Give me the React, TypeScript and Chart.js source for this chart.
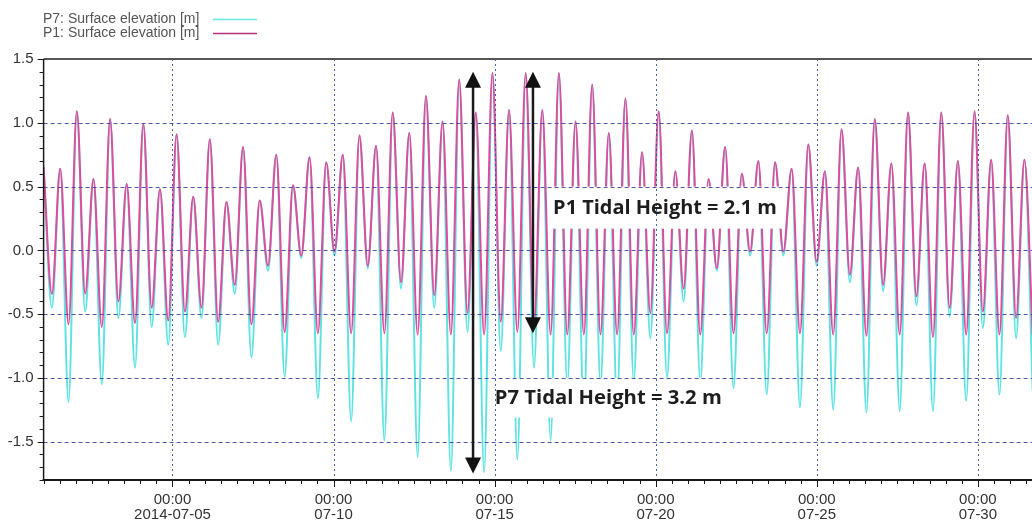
import React, { useEffect, useRef } from 'react';
import { Chart, registerables } from 'chart.js';

Chart.register(...registerables);

// ---- data (days since 2014-07-01 00:00) ----
const START_DAY = 0.0;
const STEP_DAYS = 0.258; // successive high / low waters

const p1Values = [
  0.65, -0.34, 0.64, -0.58, 1.09, -0.34, 0.56, -0.60, 1.03, -0.40,
  0.52, -0.57, 0.99, -0.45, 0.48, -0.55, 0.91, -0.48, 0.42, -0.45,
  0.87, -0.56, 0.38, -0.27, 0.81, -0.58, 0.39, -0.12, 0.75, -0.64,
  0.51, -0.04, 0.73, -0.65, 0.69, -0.01, 0.75, -0.65, 0.90, -0.12,
  0.82, -0.65, 1.08, -0.25, 0.92, -0.66, 1.21, -0.35, 1.01, -0.66,
  1.34, -0.49, 1.08, -0.66, 1.39, -0.56, 1.10, -0.64, 1.39, -0.58,
  1.10, -0.66, 1.39, -0.66, 1.01, -0.66, 1.30, -0.66, 0.92, -0.66,
  1.19, -0.66, 0.77, -0.49, 1.09, -0.65, 0.62, -0.30, 0.94, -0.66,
  0.56, -0.14, 0.81, -0.65, 0.60, -0.01, 0.70, -0.65, 0.69, -0.01,
  0.64, -0.65, 0.83, -0.09, 0.62, -0.66, 0.95, -0.19, 0.65, -0.67,
  1.03, -0.27, 0.68, -0.66, 1.08, -0.36, 0.68, -0.68, 1.08, -0.45,
  0.70, -0.66, 1.09, -0.48, 0.71, -0.66, 1.06, -0.53, 0.71, -0.66,
];

const p7Values = [
  0.65, -0.45, 0.64, -1.19, 1.09, -0.48, 0.56, -1.05, 1.03, -0.53,
  0.52, -0.92, 0.99, -0.60, 0.48, -0.74, 0.91, -0.68, 0.42, -0.53,
  0.87, -0.74, 0.38, -0.34, 0.81, -0.84, 0.39, -0.16, 0.75, -0.99,
  0.51, -0.06, 0.73, -1.16, 0.69, -0.04, 0.75, -1.34, 0.90, -0.14,
  0.82, -1.49, 1.08, -0.30, 0.92, -1.62, 1.21, -0.45, 1.01, -1.73,
  1.34, -0.64, 1.08, -1.74, 1.39, -0.79, 1.10, -1.64, 1.39, -0.92,
  1.10, -1.49, 1.39, -1.05, 1.01, -1.25, 1.30, -1.05, 0.92, -1.18,
  1.19, -1.02, 0.77, -0.69, 1.09, -1.00, 0.62, -0.40, 0.94, -1.03,
  0.56, -0.16, 0.81, -1.08, 0.60, -0.04, 0.70, -1.13, 0.69, -0.04,
  0.64, -1.23, 0.83, -0.12, 0.62, -1.25, 0.95, -0.25, 0.65, -1.27,
  1.03, -0.32, 0.68, -1.26, 1.08, -0.43, 0.68, -1.26, 1.08, -0.52,
  0.70, -1.18, 1.09, -0.61, 0.71, -1.13, 1.06, -0.69, 0.71, -1.10,
];

const seriesNames = ['P7: Surface elevation [m]', 'P1: Surface elevation [m]'];
const seriesColors = ['#5ee2e2', '#de4c9c'];
const legendColors = ['#6fe6e6', '#b8307a'];

const xTickDays = [4, 9, 14, 19, 24, 29];
const xTickLabels = [
  ['00:00', '2014-07-05'],
  ['00:00', '07-10'],
  ['00:00', '07-15'],
  ['00:00', '07-20'],
  ['00:00', '07-25'],
  ['00:00', '07-30'],
];
const yLabelValues = [-1.5, -1.0, -0.5, 0.0, 0.5, 1.0, 1.5];

const X_MIN = 0;
const X_MAX = 30.68;
const Y_MIN = -1.8;
const Y_MAX = 1.5;

const arrows = [
  { x: 13.33, from: 1.4, to: -1.75 },
  { x: 15.19, from: 1.4, to: -0.65 },
];
const annotations = [
  { text: 'P1 Tidal Height = 2.1 m', x0: 15.66, x1: 22.92, y0: 0.5, y1: 0.17 },
  { text: 'P7 Tidal Height = 3.2 m', x0: 13.85, x1: 21.21, y0: -1.0, y1: -1.31 },
];

const isHalfMultiple = (v: number) => Math.abs(Math.round(v * 10)) % 5 === 0;

const overlay = {
  id: 'overlay',
  afterDatasetsDraw(chart: any) {
    const { ctx, chartArea: a } = chart;
    const x = chart.scales.x;
    const y = chart.scales.y;
    ctx.save();
    // white label boxes
    ctx.fillStyle = '#ffffff';
    annotations.forEach((an) => {
      const l = x.getPixelForValue(an.x0);
      const r = x.getPixelForValue(an.x1);
      const t = y.getPixelForValue(an.y0);
      const b = y.getPixelForValue(an.y1);
      ctx.fillRect(l, t, r - l, b - t);
    });
    // grid lines
    ctx.beginPath();
    ctx.rect(a.left, a.top, a.right - a.left, a.bottom - a.top);
    ctx.clip();
    ctx.lineWidth = 1;
    ctx.strokeStyle = 'rgba(60,70,160,0.9)';
    ctx.setLineDash([4, 3]);
    yLabelValues.forEach((v) => {
      if (v <= Y_MIN || v >= Y_MAX) return;
      const py = Math.round(y.getPixelForValue(v)) + 0.5;
      ctx.beginPath();
      ctx.moveTo(a.left, py);
      ctx.lineTo(a.right, py);
      ctx.stroke();
    });
    ctx.strokeStyle = 'rgba(50,80,170,0.9)';
    ctx.setLineDash([2, 3]);
    xTickDays.forEach((d) => {
      const px = Math.round(x.getPixelForValue(d)) + 0.5;
      ctx.beginPath();
      ctx.moveTo(px, a.top);
      ctx.lineTo(px, a.bottom);
      ctx.stroke();
    });
    ctx.restore();

    ctx.save();
    // annotation texts (sized to fill their box)
    ctx.fillStyle = '#1e1e1e';
    ctx.textBaseline = 'middle';
    ctx.textAlign = 'left';
    annotations.forEach((an) => {
      const l = x.getPixelForValue(an.x0);
      const r = x.getPixelForValue(an.x1);
      const t = y.getPixelForValue(an.y0);
      const b = y.getPixelForValue(an.y1);
      ctx.font = 'bold 18px "Open Sans"';
      const w = ctx.measureText(an.text).width;
      const size = (18 * (r - l - 10)) / w;
      ctx.font = `bold ${size.toFixed(2)}px "Open Sans"`;
      ctx.fillText(an.text, l + 5, (t + b) / 2 + 1);
    });
    // arrows
    ctx.strokeStyle = '#1a1a1a';
    ctx.fillStyle = '#111111';
    ctx.lineWidth = 2.5;
    const hw = 8;
    const hh = 16;
    arrows.forEach((ar) => {
      const px = x.getPixelForValue(ar.x);
      const top = y.getPixelForValue(ar.from);
      const bot = y.getPixelForValue(ar.to);
      ctx.beginPath();
      ctx.moveTo(px, top + hh - 1);
      ctx.lineTo(px, bot - hh + 1);
      ctx.stroke();
      ctx.beginPath();
      ctx.moveTo(px, top);
      ctx.lineTo(px - hw, top + hh);
      ctx.lineTo(px + hw, top + hh);
      ctx.closePath();
      ctx.fill();
      ctx.beginPath();
      ctx.moveTo(px, bot);
      ctx.lineTo(px - hw, bot - hh);
      ctx.lineTo(px + hw, bot - hh);
      ctx.closePath();
      ctx.fill();
    });
    ctx.restore();
  },
  afterDraw(chart: any) {
    const { ctx, chartArea: a } = chart;
    const x = chart.scales.x;
    const y = chart.scales.y;
    ctx.save();
    // frame
    ctx.setLineDash([]);
    ctx.strokeStyle = '#555555';
    ctx.lineWidth = 2;
    ctx.beginPath();
    ctx.moveTo(a.left, a.top);
    ctx.lineTo(a.right, a.top);
    ctx.stroke();
    ctx.strokeStyle = '#1a1a1a';
    ctx.beginPath();
    ctx.moveTo(a.left - 1, a.bottom);
    ctx.lineTo(a.right, a.bottom);
    ctx.stroke();
    ctx.lineWidth = 1.5;
    ctx.beginPath();
    ctx.moveTo(a.left, a.top);
    ctx.lineTo(a.left, a.bottom);
    ctx.stroke();
    // tick marks
    ctx.lineWidth = 1;
    y.ticks.forEach((t: any) => {
      const py = Math.round(y.getPixelForValue(t.value)) + 0.5;
      const len = isHalfMultiple(t.value) ? 6 : 4;
      ctx.beginPath();
      ctx.moveTo(a.left - len, py);
      ctx.lineTo(a.left, py);
      ctx.stroke();
    });
    x.ticks.forEach((t: any) => {
      const px = Math.round(x.getPixelForValue(t.value)) + 0.5;
      const len = xTickDays.includes(t.value) ? 7 : 4;
      ctx.beginPath();
      ctx.moveTo(px, a.bottom);
      ctx.lineTo(px, a.bottom + len);
      ctx.stroke();
    });
    // legend
    ctx.font = '14px "Liberation Sans"';
    ctx.fillStyle = '#555555';
    ctx.textBaseline = 'middle';
    ctx.textAlign = 'left';
    seriesNames.forEach((name, i) => {
      const ly = 19 + i * 14;
      ctx.fillText(name, 43, ly);
      ctx.strokeStyle = legendColors[i];
      ctx.lineWidth = 1.5;
      ctx.beginPath();
      ctx.moveTo(213, ly + 0.5);
      ctx.lineTo(257, ly + 0.5);
      ctx.stroke();
    });
    ctx.restore();
  },
};

export default function App() {
  const ref = useRef<HTMLCanvasElement | null>(null);
  useEffect(() => {
    if (!ref.current) return;
    const toPoints = (vals: number[]) =>
      vals.map((v, i) => ({ x: START_DAY + i * STEP_DAYS, y: v }));
    const chart = new Chart(ref.current, {
      type: 'line',
      data: {
        datasets: [
          {
            label: seriesNames[1],
            data: toPoints(p1Values),
            borderColor: seriesColors[1],
            borderWidth: 2,
            pointRadius: 0,
            cubicInterpolationMode: 'monotone',
            order: 0,
          },
          {
            label: seriesNames[0],
            data: toPoints(p7Values),
            borderColor: seriesColors[0],
            borderWidth: 2,
            pointRadius: 0,
            cubicInterpolationMode: 'monotone',
            order: 1,
          },
        ],
      },
      options: {
        animation: false,
        responsive: false,
        devicePixelRatio: 1,
        layout: { padding: { top: 59, left: 0, right: 0, bottom: 0 } },
        plugins: { legend: { display: false }, tooltip: { enabled: false } },
        events: [],
        scales: {
          x: {
            type: 'linear',
            min: X_MIN,
            max: X_MAX,
            grid: { display: false, drawTicks: false },
            border: { display: false },
            afterBuildTicks: (scale: any) => {
              const ticks = [];
              for (let k = 0; k <= 61; k++) ticks.push({ value: k / 2 });
              scale.ticks = ticks;
            },
            afterFit: (scale: any) => {
              scale.height = 45;
              scale.paddingLeft = 0;
              scale.paddingRight = 0;
            },
            ticks: {
              autoSkip: false,
              maxRotation: 0,
              minRotation: 0,
              padding: 13,
              color: '#333333',
              font: { family: 'Liberation Sans', size: 15, lineHeight: 0.95 },
              callback: (v: any) => {
                const idx = xTickDays.indexOf(Number(v));
                return idx >= 0 ? xTickLabels[idx] : '';
              },
            },
          },
          y: {
            type: 'linear',
            min: Y_MIN,
            max: Y_MAX,
            grid: { display: false, drawTicks: false },
            border: { display: false },
            afterBuildTicks: (scale: any) => {
              const ticks = [];
              for (let k = -18; k <= 15; k++) ticks.push({ value: k / 10 });
              scale.ticks = ticks;
            },
            afterFit: (scale: any) => {
              scale.width = 43.6;
            },
            ticks: {
              autoSkip: false,
              padding: 10,
              color: '#333333',
              font: { family: 'Liberation Sans', size: 15 },
              callback: (v: any) => (isHalfMultiple(Number(v)) && Number(v) >= -1.5 ? Number(v).toFixed(1) : ''),
            },
          },
        },
      },
      plugins: [overlay],
    } as any);
    return () => chart.destroy();
  }, []);
  return (
    <div style={{ position: 'fixed', left: 0, top: 0, width: 1032, height: 525, background: '#fff' }}>
      <canvas ref={ref} width={1032} height={525} style={{ display: 'block' }} />
    </div>
  );
}
